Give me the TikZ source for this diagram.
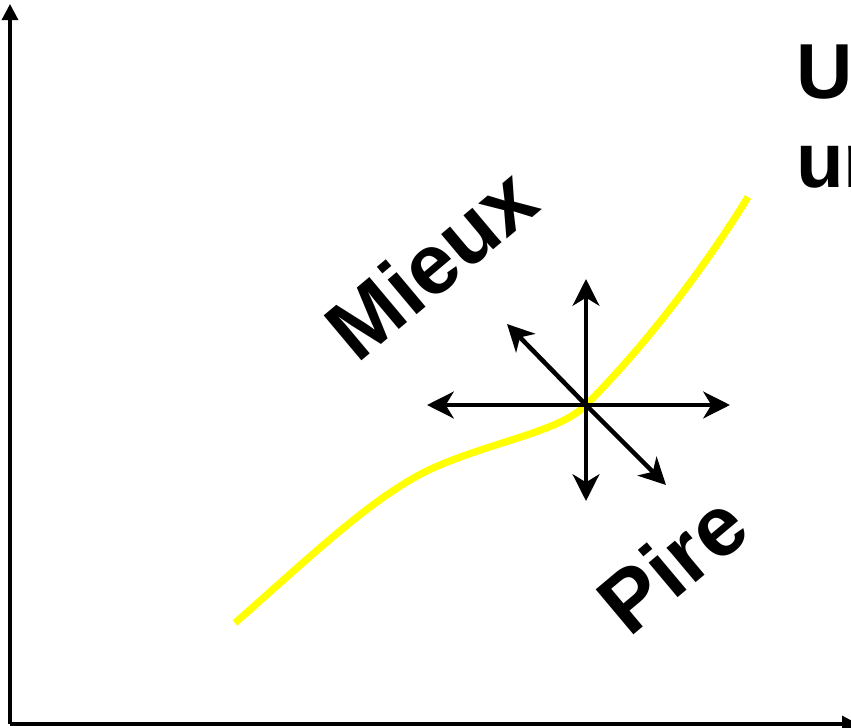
\documentclass[tikz,border=0pt]{standalone}
\usepackage{fontspec}
\setmainfont{Liberation Sans}
\usetikzlibrary{arrows.meta}
\definecolor{curveyellow}{RGB}{255,255,0}
\definecolor{inkblack}{RGB}{0,0,0}
\tikzset{
  axis/.style={draw=inkblack, line width=2.3pt, -{Triangle[length=12pt, width=12pt]}},
  dirarrow/.style={draw=inkblack, line width=3.4pt, -{Stealth[length=20pt, width=20pt, inset=6pt]}},
  curve/.style={draw=curveyellow, line width=5.4pt},
  label/.style={font=\bfseries\fontsize{64}{72}\selectfont, text=inkblack, inner sep=0pt},
  title/.style={font=\bfseries\fontsize{58.5}{67}\selectfont, text=inkblack, inner sep=0pt, anchor=base west}
}

\begin{document}
\begin{tikzpicture}[x=0.75pt, y=-0.75pt]
  \useasboundingbox (0,0) rectangle (851,728);
  \clip (0,0) rectangle (851,728);
  % axes
  \coordinate (origin) at (10,724);
  \coordinate (ytop) at (10,4);
  \coordinate (xend) at (858,724);
  \draw[axis] (origin) -- (ytop);
  \draw[axis] (origin) -- (xend);
  % the curve
  \coordinate (cstart) at (235,623);
  \coordinate (cknee) at (440,465);
  \coordinate (centre) at (586,405);
  \coordinate (cend) at (748,197);
  \draw[curve] (cstart) .. controls (320,548) and (380,490) .. (cknee)
    .. controls (500,440) and (560,431) .. (centre)
    .. controls (640,351) and (700,275) .. (cend);
  % directions
  \coordinate (up) at (586,279);
  \coordinate (down) at (586,501);
  \coordinate (left) at (427,405);
  \coordinate (right) at (730,405);
  \coordinate (nw) at (507,324);
  \coordinate (se) at (666,485);
  \foreach \tip in {up,down,left,right,nw,se}
    \draw[dirarrow] (centre) -- (\tip);
  % labels
  \node[label, rotate=40] (better) at (431,263) {Mieux};
  \node[label, rotate=40] (worse) at (672,563) {Pire};
  \node[title] (titleA) at (796,98) {U};
  \node[title] (titleB) at (796,187) {un};
\end{tikzpicture}
\end{document}
